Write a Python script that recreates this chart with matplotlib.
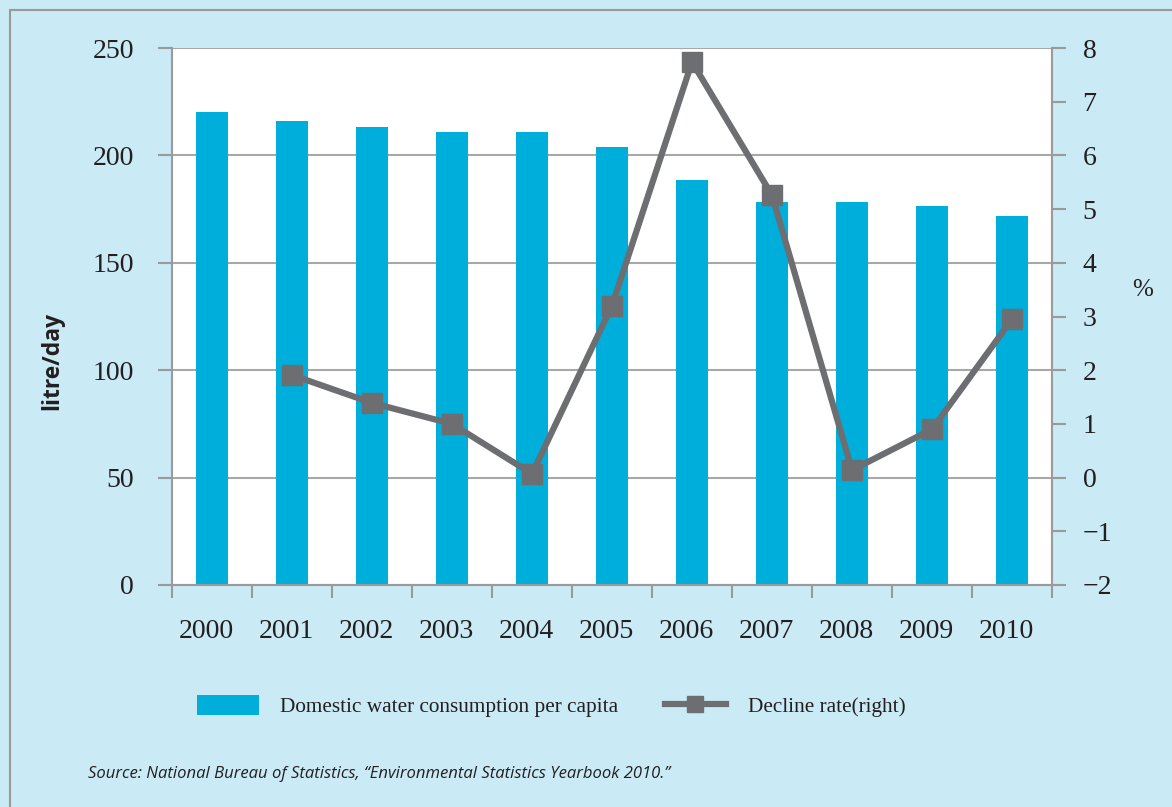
import matplotlib
matplotlib.use("Agg")
import matplotlib.pyplot as plt
from matplotlib.lines import Line2D
from matplotlib.patches import Patch, Rectangle

years = ["2000", "2001", "2002", "2003", "2004", "2005",
         "2006", "2007", "2008", "2009", "2010"]
consumption = [220.2, 216.0, 213.2, 210.9, 211.0, 203.9,
               188.5, 178.3, 178.3, 176.4, 171.8]
decline_years = years[1:]
decline_rate = [1.91, 1.39, 1.00, 0.07, 3.20, 7.74, 5.26, 0.14, 0.90, 2.95]

bg = "#caeaf6"
bar_color = "#00aedb"
line_color = "#6d6e71"
axis_color = "#9a9a9a"
text_color = "#231f20"
serif = ["Liberation Serif", "DejaVu Serif"]

W, H = 1172, 807
fig = plt.figure(figsize=(W / 100, H / 100), dpi=100)
fig.patch.set_facecolor(bg)
# frame of the panel
fig.add_artist(Rectangle((10 / W, -0.1), 1.2, 1 - 10 / H + 0.1,
                         transform=fig.transFigure, facecolor="none",
                         edgecolor="#9a9a9a", linewidth=1.5))

ax = fig.add_axes([172 / W, 1 - 585 / H, (1052 - 172) / W, (585 - 48) / H])
ax.set_facecolor("white")
x = list(range(len(years)))
ax.bar(x, consumption, width=0.41, color=bar_color, zorder=2)
ax.set_xlim(-0.5, len(years) - 0.5)
ax.set_ylim(0, 250)
ax.set_yticks([0, 50, 100, 150, 200, 250])
ax.yaxis.grid(True, color="#a8a8a8", linewidth=1.5, zorder=0)
ax.set_xticks([i - 0.5 for i in range(len(years) + 1)])
ax.set_xticklabels([])
ax.tick_params(axis="x", length=9, width=1.5, color=axis_color, direction="out")
# year labels sit slightly left of each bar centre
for i, yr in zip(x, years):
    ax.text(i - 0.075, -(631 - 585) / 537, yr, transform=ax.get_xaxis_transform(),
            fontfamily=serif, fontsize=20, ha="center", va="center", color=text_color)
ax.tick_params(axis="y", length=10, width=1.5, color=axis_color, direction="out",
               labelsize=20, pad=17.5, labelcolor=text_color)
for lab in ax.get_yticklabels():
    lab.set_fontfamily(serif)
for s in ["top", "right"]:
    ax.spines[s].set_visible(False)
for s in ["left", "bottom"]:
    ax.spines[s].set_color(axis_color)
    ax.spines[s].set_linewidth(1.5)
fig.text(52 / W, 1 - 361 / H, "litre/day", fontfamily=["Open Sans", "DejaVu Sans"],
         fontweight="bold", fontsize=16.5, rotation=90, ha="center", va="center",
         color=text_color)

ax2 = ax.twinx()
xi = [years.index(y) for y in decline_years]
ax2.plot(xi, decline_rate, color=line_color, linewidth=4.5, marker="s",
         markersize=14, markerfacecolor=line_color, markeredgecolor=line_color, zorder=3)
ax2.set_ylim(-2, 8)
ax2.set_yticks(range(-2, 9))
ax2.set_yticklabels(["\u22122", "\u22121"] + [str(v) for v in range(0, 9)])
ax2.tick_params(axis="y", length=10, width=1.5, color=axis_color, direction="out",
                labelsize=20, pad=12, labelcolor=text_color)
for lab in ax2.get_yticklabels():
    lab.set_fontfamily(serif)
for s in ["top", "left", "bottom"]:
    ax2.spines[s].set_visible(False)
ax2.spines["right"].set_color(axis_color)
ax2.spines["right"].set_linewidth(1.5)
fig.text(1143 / W, 1 - 290 / H, "%", fontfamily=serif, fontsize=18,
         ha="center", va="center", color=text_color)

handles = [Patch(facecolor=bar_color, edgecolor="none"),
           Line2D([], [], color=line_color, linewidth=4.5, marker="s", markersize=12)]
labels = ["Domestic water consumption per capita", "Decline rate(right)"]
fig.legend(handles, labels, loc="center", bbox_to_anchor=(551 / W, 1 - 706 / H),
           ncol=2, frameon=False, prop={"family": serif, "size": 15.3},
           handlelength=2.9, handleheight=1.1, columnspacing=2.2, handletextpad=1.0,
           labelcolor=text_color)

fig.text(88 / W, 1 - 774 / H,
         "Source: National Bureau of Statistics, \u201cEnvironmental Statistics Yearbook 2010.\u201d",
         fontfamily=["Open Sans", "DejaVu Sans"], style="italic",
         fontsize=12, ha="left", va="center", color=text_color)

fig.savefig("out.png", dpi=100, facecolor=bg)
